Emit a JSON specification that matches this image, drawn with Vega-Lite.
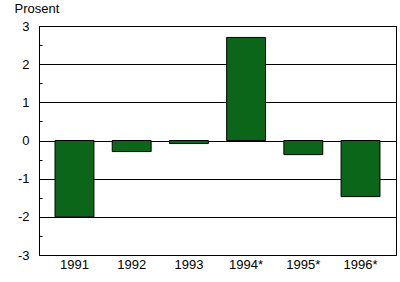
{
  "$schema": "https://vega.github.io/schema/vega-lite/v6.json",
  "width": 357,
  "height": 229,
  "autosize": "none",
  "padding": {"left": 39, "top": 26, "right": 4, "bottom": 27},
  "background": "white",
  "config": {
    "view": {"stroke": "black", "strokeWidth": 1},
    "font": "Liberation Sans",
    "axis": {"labelFont": "Liberation Sans", "labelColor": "black", "labelFontSize": 13, "titleFont": "Liberation Sans"}
  },
  "data": {
    "values": [
      {"year": "1991", "value": -2.0},
      {"year": "1992", "value": -0.29},
      {"year": "1993", "value": -0.08},
      {"year": "1994*", "value": 2.7},
      {"year": "1995*", "value": -0.37},
      {"year": "1996*", "value": -1.47}
    ]
  },
  "mark": {"type": "bar", "color": "#0b6619", "stroke": "black", "strokeWidth": 1},
  "encoding": {
    "x": {
      "field": "year",
      "type": "nominal",
      "sort": null,
      "scale": {"paddingInner": 0.32, "paddingOuter": 0.28},
      "axis": {"title": null, "labelAngle": 0, "ticks": false, "domain": false, "labelPadding": 3, "labelFontSize": 13}
    },
    "y": {
      "field": "value",
      "type": "quantitative",
      "scale": {"domain": [-3, 3], "nice": false, "zero": false},
      "axis": {
        "values": [-3, -2.5, -2, -1.5, -1, -0.5, 0, 0.5, 1, 1.5, 2, 2.5, 3],
        "grid": true,
        "gridColor": "black",
        "gridOpacity": {"condition": {"test": "datum.value % 1 !== 0", "value": 0}, "value": 1},
        "tickColor": "black",
        "tickSize": -3,
        "tickOpacity": {"condition": {"test": "datum.value % 1 !== 0", "value": 1}, "value": 0},
        "labelExpr": "datum.value % 1 === 0 ? '' + datum.value : ''",
        "labelPadding": 13,
        "domainColor": "black",
        "title": "Prosent",
        "titleAngle": 0,
        "titleAlign": "left",
        "titleBaseline": "alphabetic",
        "titleX": -25,
        "titleY": -14,
        "titleFontSize": 13,
        "titleFontWeight": "normal",
        "titleColor": "black"
      }
    }
  }
}
